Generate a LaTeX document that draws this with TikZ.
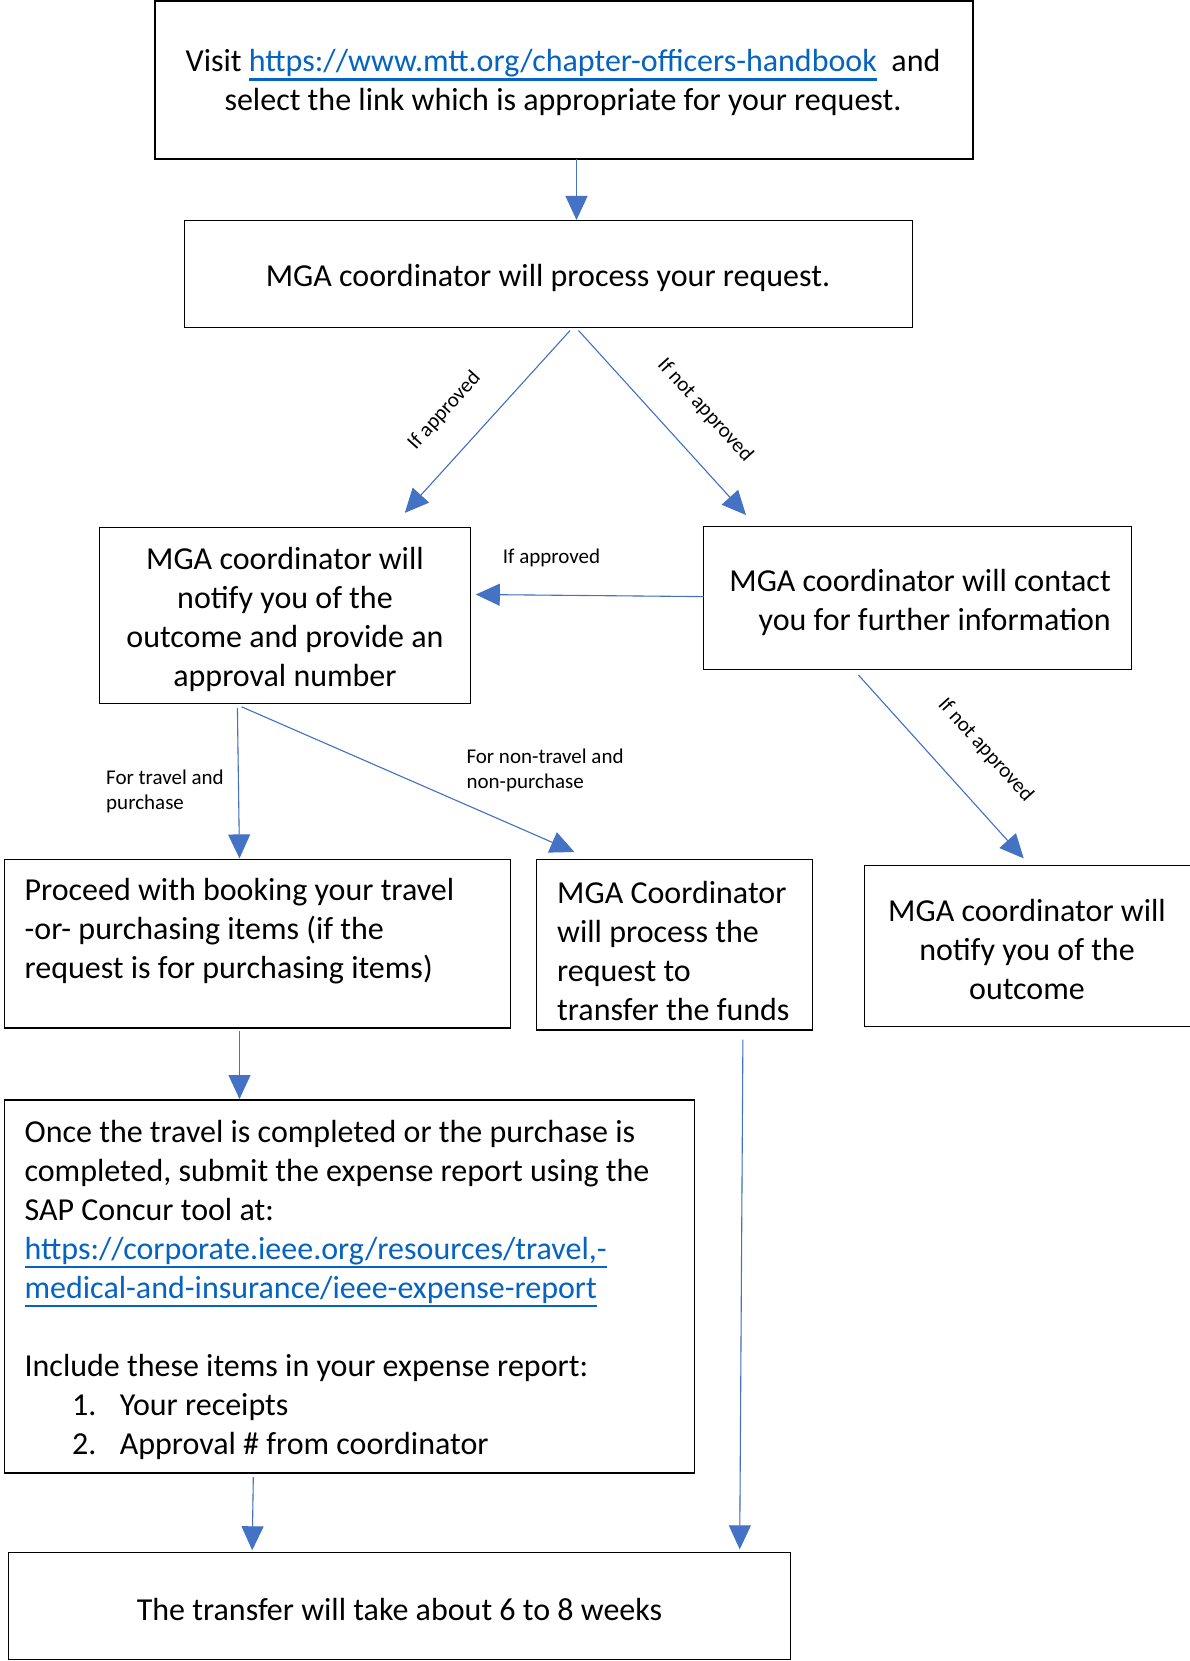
\documentclass[tikz,border=0pt]{standalone}
\usepackage{fontspec}
\setmainfont{Carlito}
\usetikzlibrary{arrows.meta}
\definecolor{arrowblue}{HTML}{4472C4}
\definecolor{linkblue}{HTML}{0563C1}
\newcommand{\mainfs}{\fontsize{32}{39}\selectfont}
\newcommand{\labfs}{\fontsize{21}{25.4}\selectfont}
\newcommand{\lnk}[1]{{\color{linkblue}\setbox0=\hbox{#1}\rlap{\rule[-9.2pt]{\wd0}{2.2pt}}\box0}}
\begin{document}
\begin{tikzpicture}[x=1pt,y=-1pt,
  box/.style={draw=black, line width=1.3pt, rectangle, inner sep=0pt, outer sep=0pt, anchor=north west},
  txt/.style={inner sep=0pt, font=\mainfs},
  lab/.style={inner sep=0pt, font=\labfs},
  arr/.style={draw=arrowblue, line width=1.1pt, -{Triangle[length=24pt,width=22pt]}, fill=arrowblue}]
\useasboundingbox (0,0) rectangle (1190,1661);
\clip (0,0) rectangle (1190,1661);
\fill[white] (0,0) rectangle (1190,1661);

% boxes
\node[box, minimum width=818pt, minimum height=158pt] (b1) at (155,1) {};
\node[box, minimum width=728pt, minimum height=107pt] (b2) at (184.4,220.4) {};
\node[box, minimum width=371pt, minimum height=176pt] (b3) at (99.6,527.7) {};
\node[box, minimum width=428pt, minimum height=143pt] (b4) at (703.6,526.7) {};
\node[box, minimum width=340pt, minimum height=161pt] (b5) at (864.7,865.8) {};
\node[box, minimum width=506.6pt, minimum height=168.6pt] (b6) at (4.2,859.4) {};
\node[box, minimum width=276.6pt, minimum height=170.6pt] (b7) at (536.2,859.4) {};
\node[box, minimum width=690pt, minimum height=373pt] (b8) at (4.2,1100) {};
\node[box, minimum width=782pt, minimum height=107pt] (b9) at (8.5,1552.5) {};

% texts
\node[txt, align=center] (t1) at (563,82.3) {Visit \lnk{https://www.mtt.org/chapter-officers-handbook}\ \ and\\select the link which is appropriate for your request.};
\node[txt] (t2) at (548,277.5) {MGA coordinator will process your request.};
\node[txt, align=center] (t3) at (285,619.5) {MGA coordinator will\\notify you of the\\outcome and provide an\\approval number};
\node[txt, align=right, anchor=east] (t4) at (1111,602.3) {MGA coordinator will contact\\you for further information};
\node[txt, align=center] (t5) at (1027,949.4) {MGA coordinator will\\notify you of the\\outcome};
\node[txt, align=left, anchor=west] (t6) at (24.4,931.3) {Proceed with booking your travel\\-or- purchasing items (if the\\request is for purchasing items)};
\node[txt, align=left, anchor=west] (t7) at (557,950.9) {MGA Coordinator\\will process the\\request to\\transfer the funds};
\node[txt, align=left, anchor=west] (t8) at (24.4,1289.5) {Once the travel is completed or the purchase is\\completed, submit the expense report using the\\SAP Concur tool at:\\\lnk{https://corporate.ieee.org/resources/travel,-}\\\lnk{medical-and-insurance/ieee-expense-report}\\[39pt]Include these items in your expense report:\\\hspace*{47.6pt}\makebox[47.6pt][l]{1.}Your receipts\\\hspace*{47.6pt}\makebox[47.6pt][l]{2.}Approval \# from coordinator};
\node[txt] (t9) at (399.5,1609.6) {The transfer will take about 6 to 8 weeks};

% labels
\node[lab, rotate=47.8] (l1) at (444.5,410.5) {If approved};
\node[lab, rotate=-47.8] (l2) at (705,410) {If not approved};
\node[lab] (l3) at (551.5,558.3) {If approved};
\node[lab, rotate=-48] (l4) at (985.5,750) {If not approved};
\node[lab, align=left, anchor=west] (l5) at (106,791.5) {For travel and\\purchase};
\node[lab, align=left, anchor=west] (l6) at (466.3,770.3) {For non-travel and\\non-purchase};

% connector end points
\coordinate (s1) at (576.5,159.5); \coordinate (e1) at (576.5,220);
\coordinate (s2) at (570,330.6);   \coordinate (e2) at (404.8,512.9);
\coordinate (s3) at (578.6,330.6); \coordinate (e3) at (746,515);
\coordinate (s4) at (703.6,596.6); \coordinate (e4) at (475.8,594.5);
\coordinate (s5) at (858.4,675);   \coordinate (e5) at (1023.7,858.4);
\coordinate (s6) at (237.4,708);   \coordinate (e6) at (239.5,858.4);
\coordinate (s7) at (241.6,706.8); \coordinate (e7) at (574.4,852);
\coordinate (s8) at (239.5,1031);  \coordinate (e8) at (239.5,1099);
\coordinate (s9) at (253.3,1477.2);\coordinate (e9) at (252.2,1550.3);
\coordinate (s10) at (742.9,1039.6);\coordinate (e10) at (739.7,1549.3);

\draw[arr] (s1) -- (e1);
\draw[arr] (s2) -- (e2);
\draw[arr] (s3) -- (e3);
\draw[arr] (s4) -- (e4);
\draw[arr] (s5) -- (e5);
\draw[arr] (s6) -- (e6);
\draw[arr] (s7) -- (e7);
\draw[arr] (s8) -- (e8);
\draw[arr] (s9) -- (e9);
\draw[arr] (s10) -- (e10);
\end{tikzpicture}
\end{document}
